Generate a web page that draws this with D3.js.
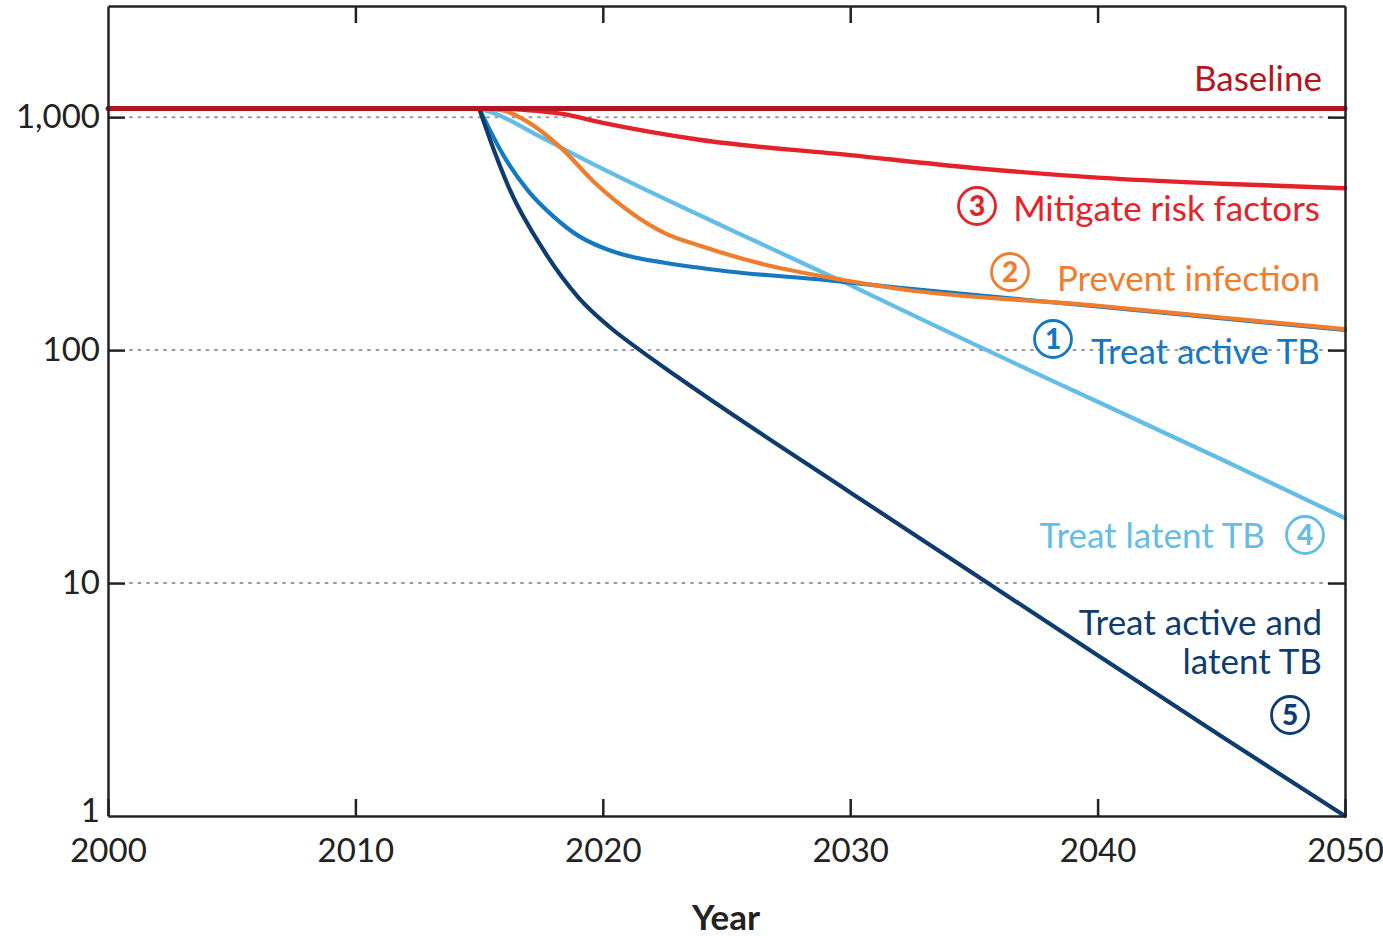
<!DOCTYPE html>
<html>
<head>
<meta charset="utf-8">
<script src="https://cdn.jsdelivr.net/npm/d3@7"></script>
<style>
  html, body { margin: 0; padding: 0; background: #fff; }
  svg { display: block; }
  text { font-family: Lato, "Open Sans", sans-serif; }
</style>
</head>
<body>
<svg id="chart" width="1383" height="936"></svg>
<script>
// Tick values
const xTicks = [2000, 2010, 2020, 2030, 2040, 2050];
const yTicks = [1, 10, 100, 1000];
const gridValues = [10, 100, 1000];

// Series: [year, incidence]
const baseline = [[2000, 1090], [2015, 1090], [2050, 1090]];
const mitigate = [[2015, 1090], [2016, 1087], [2017, 1070], [2018.3, 1035], [2020, 945], [2023.9, 800], [2030, 687], [2035, 605], [2040, 550], [2045, 518], [2050, 495]];
const prevent = [[2015, 1090], [2016, 1065], [2017, 950], [2018.3, 740], [2019.7, 520], [2021.2, 385], [2022.5, 318], [2023.9, 281], [2026.4, 235], [2029.7, 200], [2032, 183], [2040, 155], [2045, 138], [2050, 123]];
const treatActive = [[2015, 1090], [2016, 680], [2017, 480], [2018, 375], [2019, 310], [2020, 275], [2021, 254], [2022.5, 237], [2025, 218], [2029, 200], [2032, 185], [2040, 154], [2050, 122]];
const treatLatent = [[2015, 1090], [2015.6, 1040], [2017.5, 820], [2020, 600], [2025, 335], [2030, 190], [2035, 106], [2040, 60], [2045, 34], [2050, 19]];
const treatBoth = [[2015, 1090], [2015.6, 721], [2016.25, 486], [2017.6, 269], [2019, 169], [2020.3, 125], [2021.5, 100], [2023, 77], [2030, 24.5], [2035.5, 10.1], [2040, 4.9], [2045, 2.2], [2050, 1]];

const svg = d3.select("#chart");
const margin = { left: 108, right: 38, top: 6, bottom: 120 };
const W = 1383, H = 936;
const iw = W - margin.left - margin.right;
const ih = H - margin.top - margin.bottom;

const x = d3.scaleLinear().domain([2000, 2050]).range([0, iw]);
const y = d3.scaleLog().domain([1, 3000]).range([ih, 0]);

const g = svg.append("g").attr("transform", `translate(${margin.left},${margin.top})`);

// dotted reference lines
g.selectAll("line.grid").data(gridValues).join("line")
  .attr("class", "grid")
  .attr("x1", 22).attr("x2", iw - 16)
  .attr("y1", d => y(d)).attr("y2", d => y(d))
  .attr("stroke", "#9a9a9a").attr("stroke-width", 2)
  .attr("stroke-dasharray", "2,6.5").attr("stroke-linecap", "round");

const line = d3.line().x(d => x(d[0])).y(d => y(d[1])).curve(d3.curveMonotoneX);

const series = [
  { data: treatLatent, color: "#63bde8", w: 4.2 },
  { data: treatActive, color: "#1479c2", w: 4.2 },
  { data: prevent, color: "#ef7d2e", w: 4.2 },
  { data: treatBoth, color: "#0f3c6e", w: 4.2 },
  { data: mitigate, color: "#e3222a", w: 4.4 },
  { data: baseline, color: "#b3161e", w: 5 }
];
g.selectAll("path.series").data(series).join("path")
  .attr("class", "series")
  .attr("d", d => line(d.data))
  .attr("fill", "none")
  .attr("stroke", d => d.color)
  .attr("stroke-width", d => d.w)
  .attr("stroke-linecap", "round");

// frame and axes
const axisStyle = sel => {
  sel.selectAll("path.domain").attr("stroke", "#222").attr("stroke-width", 2.5);
  sel.selectAll(".tick line").attr("stroke", "#222").attr("stroke-width", 2.5);
  sel.selectAll(".tick text").attr("fill", "#222").style("font-size", "33px")
    .style("font-family", "Lato, 'Open Sans', sans-serif");
};

g.append("g").attr("transform", `translate(0,${ih})`)
  .call(d3.axisBottom(x).tickValues(xTicks).tickFormat(d3.format("d")).tickSize(-17).tickSizeOuter(0).tickPadding(23))
  .call(axisStyle);

g.append("g")
  .call(d3.axisTop(x).tickValues(xTicks.slice(1, -1)).tickFormat("").tickSize(-17).tickSizeOuter(0))
  .call(axisStyle);

g.append("g")
  .call(d3.axisLeft(y).tickValues(yTicks).tickFormat(d3.format(",")).tickSize(-17).tickSizeOuter(0).tickPadding(8))
  .call(axisStyle)
  .call(s => s.selectAll(".tick").filter(d => d === 1).select("line").remove())
  .call(s => s.selectAll(".tick").filter(d => d === 1).select("text").attr("dy", "0.16em"));

g.append("g").attr("transform", `translate(${iw},0)`)
  .call(d3.axisRight(y).tickValues(gridValues).tickFormat("").tickSize(-17).tickSizeOuter(0))
  .call(axisStyle);

// axis title
svg.append("text")
  .attr("x", 726).attr("y", 930)
  .attr("text-anchor", "middle")
  .attr("fill", "#222")
  .style("font-size", "35px").style("font-weight", "bold")
  .text("Year");

// series labels
const labelSize = 35;
function label(text, xr, yb, color, anchor) {
  return svg.append("text").attr("x", xr).attr("y", yb)
    .attr("text-anchor", anchor || "end")
    .attr("fill", color).style("font-size", labelSize + "px").text(text);
}
function badge(num, cx, cy, color) {
  svg.append("circle").attr("cx", cx).attr("cy", cy).attr("r", 18.5)
    .attr("fill", "#fff").attr("stroke", color).attr("stroke-width", 2.8);
  svg.append("text").attr("x", cx).attr("y", cy + 10)
    .attr("text-anchor", "middle").attr("fill", color)
    .style("font-size", "28px").style("font-weight", "900").text(num);
}

label("Baseline", 1322, 91, "#b3161e");
label("Mitigate risk factors", 1320, 221, "#e3222a");
badge(3, 977, 206, "#e3222a");
label("Prevent infection", 1320, 291, "#ef7d2e");
badge(2, 1010, 272, "#ef7d2e");
label("Treat active TB", 1320, 364, "#1479c2");
badge(1, 1053, 339, "#1479c2");
label("Treat latent TB", 1265, 548, "#63bde8");
badge(4, 1305, 535, "#63bde8");
label("Treat active and", 1322, 635, "#0f3c6e");
label("latent TB", 1322, 674, "#0f3c6e");
badge(5, 1290, 715, "#0f3c6e");
</script>
</body>
</html>
